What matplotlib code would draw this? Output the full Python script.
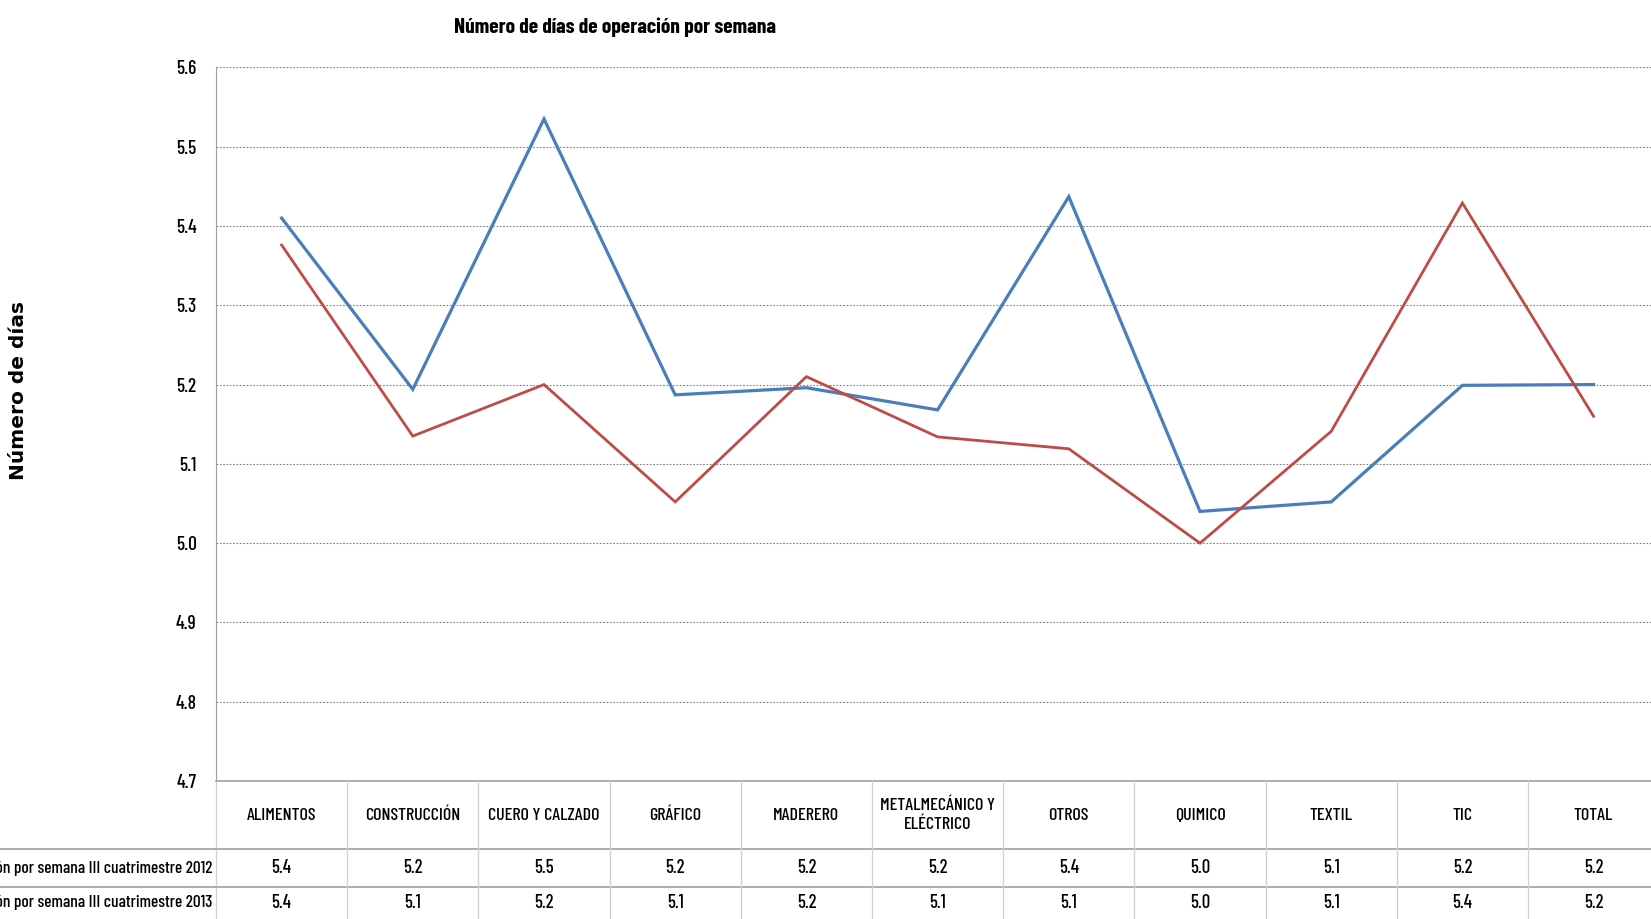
import matplotlib
matplotlib.use("Agg")
import matplotlib.pyplot as plt
from matplotlib.transforms import blended_transform_factory

# data
categories = ["ALIMENTOS", "CONSTRUCCIÓN", "CUERO Y CALZADO", "GRÁFICO", "MADERERO",
              "METALMECÁNICO Y\nELÉCTRICO", "OTROS", "QUIMICO", "TEXTIL", "TIC", "TOTAL"]
dias_2012 = [5.41, 5.194, 5.535, 5.187, 5.196, 5.168, 5.437, 5.040, 5.052, 5.199, 5.200]
dias_2013 = [5.376, 5.135, 5.200, 5.052, 5.210, 5.134, 5.119, 5.000, 5.141, 5.429, 5.160]
row_labels = ["Número de días de operación por semana III cuatrimestre 2012",
              "Número de días de operación por semana III cuatrimestre 2013"]
y_ticks = [4.7, 4.8, 4.9, 5.0, 5.1, 5.2, 5.3, 5.4, 5.5, 5.6]

narrow = ["Barlow Condensed", "DejaVu Sans"]

W, H = 1651, 919
fig = plt.figure(figsize=(W / 100, H / 100), dpi=100)

def fy(px):
    return 1 - px / H

ax_left, ax_top, ax_bot = 216 / W, fy(67.4), fy(781)
col_w = 131.2 / W
ax = fig.add_axes([ax_left, ax_bot, col_w * 11, ax_top - ax_bot])

x = list(range(len(categories)))
ax.plot(x, dias_2012, color="#4A7EBB", lw=2.3, solid_joinstyle="miter")
ax.plot(x, dias_2013, color="#BE4B48", lw=2.0, solid_joinstyle="miter")

ax.set_xlim(-0.5, len(categories) - 0.5)
ax.set_ylim(4.7, 5.6)
ax.set_yticks(y_ticks)
ax.set_yticklabels([f"{v:.1f}" for v in y_ticks], fontfamily=narrow, fontsize=14,
                   fontweight="medium")
ax.tick_params(axis="y", length=0, pad=14)
ax.set_xticks([])
ax.grid(axis="y", color="#808080", linestyle=(0, (1.5, 1.5)), lw=0.8)
for s in ["top", "right"]:
    ax.spines[s].set_visible(False)
ax.spines["bottom"].set_visible(False)
ax.spines["left"].set_color("#A0A0A0")

fig.text(615 / W, fy(27), "Número de días de operación por semana", ha="center", va="center",
         fontfamily=narrow, fontsize=15.5, fontweight="bold")
fig.text(19 / W, fy(390), "Número de días", rotation=90, ha="center", va="center",
         fontfamily="DejaVu Sans", fontsize=14.5, fontweight="bold")

# data table under the axis
tr = blended_transform_factory(ax.transData, fig.transFigure)
row_edges = [781, 849, 887, 930]
for i, ye in enumerate(row_edges):
    col = "#A0A0A0"
    ax.plot([-0.5, len(categories) - 0.5], [fy(ye)] * 2, color=col, lw=1.2,
            transform=tr, clip_on=False)
    if i >= 1:
        fig.add_artist(plt.Line2D([0, ax_left], [fy(ye)] * 2, color=col, lw=1.2))
for k in range(len(categories) + 1):
    ax.plot([k - 0.5, k - 0.5], [fy(781), fy(930)], color="#D0D0D0", lw=0.9,
            transform=tr, clip_on=False)

for i, cat in enumerate(categories):
    ax.text(i, fy(815), cat, transform=tr, ha="center", va="center",
            fontfamily=narrow, fontsize=13, fontweight="medium", linespacing=1.3)
    ax.text(i, fy(868), f"{dias_2012[i]:.1f}", transform=tr, ha="center", va="center",
            fontfamily=narrow, fontsize=13.5, fontweight="medium")
    ax.text(i, fy(903), f"{dias_2013[i]:.1f}", transform=tr, ha="center", va="center",
            fontfamily=narrow, fontsize=13.5, fontweight="medium")

for lab, yp in zip(row_labels, [868, 903]):
    fig.text(212 / W, fy(yp), lab, ha="right", va="center", fontfamily=narrow,
             fontsize=12.5, fontweight="medium")

fig.savefig("out.png", dpi=100)
